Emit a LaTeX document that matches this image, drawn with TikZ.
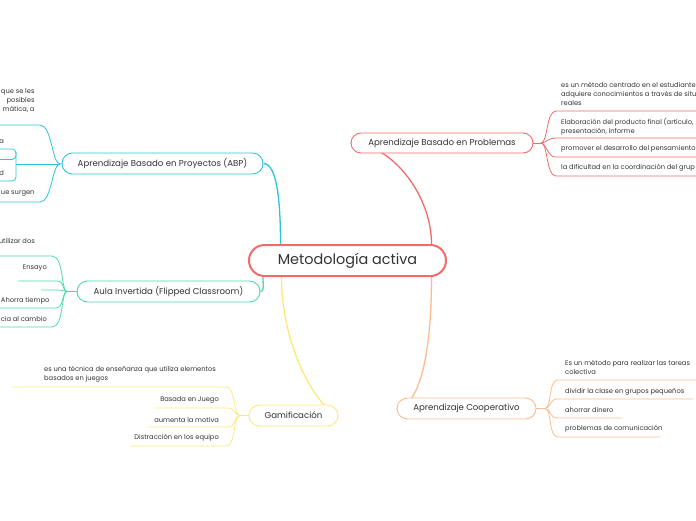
\documentclass[tikz,border=0pt]{standalone}
\usepackage{fontspec}
\setmainfont{Poppins}
\usetikzlibrary{calc}
\pgfdeclarelayer{bg}
\pgfsetlayers{bg,main}
\definecolor{cred}{HTML}{F26B6B}
\definecolor{cteal}{HTML}{2BC6D4}
\definecolor{cmint}{HTML}{4FD9A8}
\definecolor{cyel}{HTML}{FBE97C}
\definecolor{cpeach}{HTML}{FDBB8E}
\definecolor{txtc}{HTML}{333333}
\begin{document}
\begin{tikzpicture}[x=1pt,y=-1pt,
  branch/.style={draw, line width=0.9pt, fill=white, rounded corners=10.5pt, minimum height=21pt, inner sep=0pt, font=\fontsize{8.6}{10}\selectfont, text=txtc},
  leaf/.style={inner sep=0pt, font=\fontsize{6.7}{9}\selectfont, text=txtc},
  conn/.style={line width=1.3pt},
  ul/.style={line width=0.8pt}]
\useasboundingbox (0,0) rectangle (696,520);
\clip (0,0) rectangle (696,520);

% central and branch nodes
\node[draw=cred, line width=2pt, fill=white, rounded corners=15.5pt, minimum width=197pt, minimum height=31pt, inner sep=0pt, font=\fontsize{14.4}{16}\selectfont, text=txtc] (c) at (347.5,260.5) {Metodología activa};
\node[branch, draw=cteal, minimum width=201pt] (abp) at (162.5,163.5) {Aprendizaje Basado en Proyectos (ABP)};
\node[branch, draw=cmint, minimum width=183pt] (aula) at (168.5,291.5) {Aula Invertida (Flipped Classroom)};
\node[branch, draw=cyel, minimum width=89pt] (gam) at (293.5,415.5) {Gamificación};
\node[branch, draw=cred, minimum width=182pt, minimum height=20pt, rounded corners=10pt] (prob) at (442,143) {Aprendizaje Basado en Problemas};
\node[branch, draw=cpeach, minimum width=139pt] (coop) at (466.5,408.5) {Aprendizaje Cooperativo};

% junctions
\coordinate (ja) at (60,164);
\coordinate (jau) at (67,291.5);
\coordinate (jg) at (240,415.5);
\coordinate (jp) at (541,143);
\coordinate (jc) at (545,408.5);

% leaf texts: ABP
\node[leaf, anchor=west, align=right] (a1) at (0.8,100) {que se les\\posibles\\mática, a};
\node[leaf, anchor=east] (a2) at (4,142) {a};
\node[leaf, anchor=east] (a3) at (4,173) {d};
\node[leaf, anchor=west] (a4) at (0.8,194) {ue surgen};
% Aula
\node[leaf, anchor=east] (u1) at (35,241) {utilizar dos};
\node[leaf, anchor=east] (u2) at (47,268) {Ensayo};
\node[leaf, anchor=west] (u4) at (0.8,300.5) {Ahorra tiempo};
\node[leaf, anchor=east] (u5) at (47,319) {cia al cambio};
% Gamificacion
\node[leaf, anchor=west, align=left] (g1) at (44,374.5) {es una técnica de enseñanza que utiliza elementos\\basados en juegos};
\node[leaf, anchor=east] (g2) at (219,400) {Basada en Juego};
\node[leaf, anchor=east] (g3) at (219,420) {aumenta la motiva};
\node[leaf, anchor=east] (g4) at (219,438) {Distracción en los equipo};
% Problemas
\node[leaf, anchor=west, align=left] (p1) at (561,94) {es un método centrado en el estudiante\\adquiere conocimientos a través de situ\\reales};
\node[leaf, anchor=west, align=left] (p2) at (561,126.5) {Elaboración del producto final (artículo,\\presentación, informe};
\node[leaf, anchor=west] (p3) at (561,149) {promover el desarrollo del pensamiento};
\node[leaf, anchor=west] (p4) at (561,168) {la dificultad en la coordinación del grup};
% Cooperativo
\node[leaf, anchor=west, align=left] (k1) at (565,367.5) {Es un método para realizar las tareas\\colectiva};
\node[leaf, anchor=west] (k2) at (565,392) {dividir la clase en grupos pequeños};
\node[leaf, anchor=west] (k3) at (565,410) {ahorrar dinero};
\node[leaf, anchor=west] (k4) at (565,429) {problemas de comunicación};

\begin{pgfonlayer}{bg}
% main connectors
\draw[conn, cteal] (abp.east) .. controls +(14,0) and +(0,-40) .. ($(c.north)+(-67,0)$);
\draw[conn, cmint] ($(c.south west)+(15,0)$) .. controls +(0,9) and +(4,0) .. (aula.east);
\draw[conn, cyel] ($(c.south)+(-66,0)$) .. controls +(0,70) and +(-22,-8) .. (gam.east);
\draw[conn, cred] ($(c.north)+(84,0)$) .. controls +(0,-50) and +(40,0) .. (prob.west);
\draw[conn, cpeach] ($(c.south)+(84,0)$) .. controls +(0,70) and +(25,-3) .. (coop.west);

% ABP children
\draw[ul, cteal] (abp.west) -- (ja);
\draw[ul, cteal] (ja) .. controls +(-8,0) and +(12,0) .. (40,125) -- (-5,125);
\draw[ul, cteal] (ja) .. controls +(-8,0) and +(12,0) .. (40,202) -- (-5,202);
\draw[ul, cteal] (ja) -- (16,164);
\draw[ul, cteal, rounded corners=4pt] (-5,149) -- (16,149) -- (16,181) -- (-5,181);
\draw[ul, cteal, rounded corners=4pt] (-5,159.5) -- (16,159.5) -- (16,152);

% Aula children
\draw[ul, cmint] (aula.west) -- (jau);
\draw[ul, cmint] (jau) .. controls +(-6,0) and +(12,0) .. (52,256) -- (-5,256);
\draw[ul, cmint] (jau) .. controls +(-5,0) and +(8,0) .. (57,281) -- (18,281);
\draw[ul, cmint] (jau) .. controls +(-4,0) and +(6,0) .. (58,290) -- (41,290);
\draw[ul, cmint] (jau) .. controls +(-5,0) and +(8,0) .. (56,308) -- (-5,308);
\draw[ul, cmint] (jau) .. controls +(-6,0) and +(12,0) .. (52,327) -- (-5,327);

% Gamificacion children
\draw[ul, cyel] (gam.west) -- (jg);
\draw[ul, cyel] (jg) .. controls +(-7,0) and +(10,0) .. (226,387) -- (12,387);
\draw[ul, cyel] (jg) .. controls +(-6,0) and +(8,0) .. (228,408) -- (155,408);
\draw[ul, cyel] (jg) .. controls +(-6,0) and +(8,0) .. (228,427) -- (148,427);
\draw[ul, cyel] (jg) .. controls +(-7,0) and +(10,0) .. (226,446) -- (130,446);

% Problemas children
\draw[ul, cred] (prob.east) -- (jp);
\draw[ul, cred] (jp) .. controls +(7,0) and +(-10,0) .. (556,111) -- (700,111);
\draw[ul, cred] (jp) .. controls +(5,0) and +(-7,0) .. (555,138) -- (700,138);
\draw[ul, cred] (jp) .. controls +(5,0) and +(-7,0) .. (555,157) -- (700,157);
\draw[ul, cred] (jp) .. controls +(7,0) and +(-10,0) .. (556,176) -- (700,176);

% Cooperativo children
\draw[ul, cpeach] (coop.east) -- (jc);
\draw[ul, cpeach] (jc) .. controls +(7,0) and +(-10,0) .. (558,380) -- (700,380);
\draw[ul, cpeach] (jc) .. controls +(5,0) and +(-7,0) .. (557,399) -- (693,399);
\draw[ul, cpeach] (jc) .. controls +(5,0) and +(-7,0) .. (557,418) -- (622,418);
\draw[ul, cpeach] (jc) .. controls +(7,0) and +(-10,0) .. (558,437) -- (660,437);
\end{pgfonlayer}
\end{tikzpicture}
\end{document}
